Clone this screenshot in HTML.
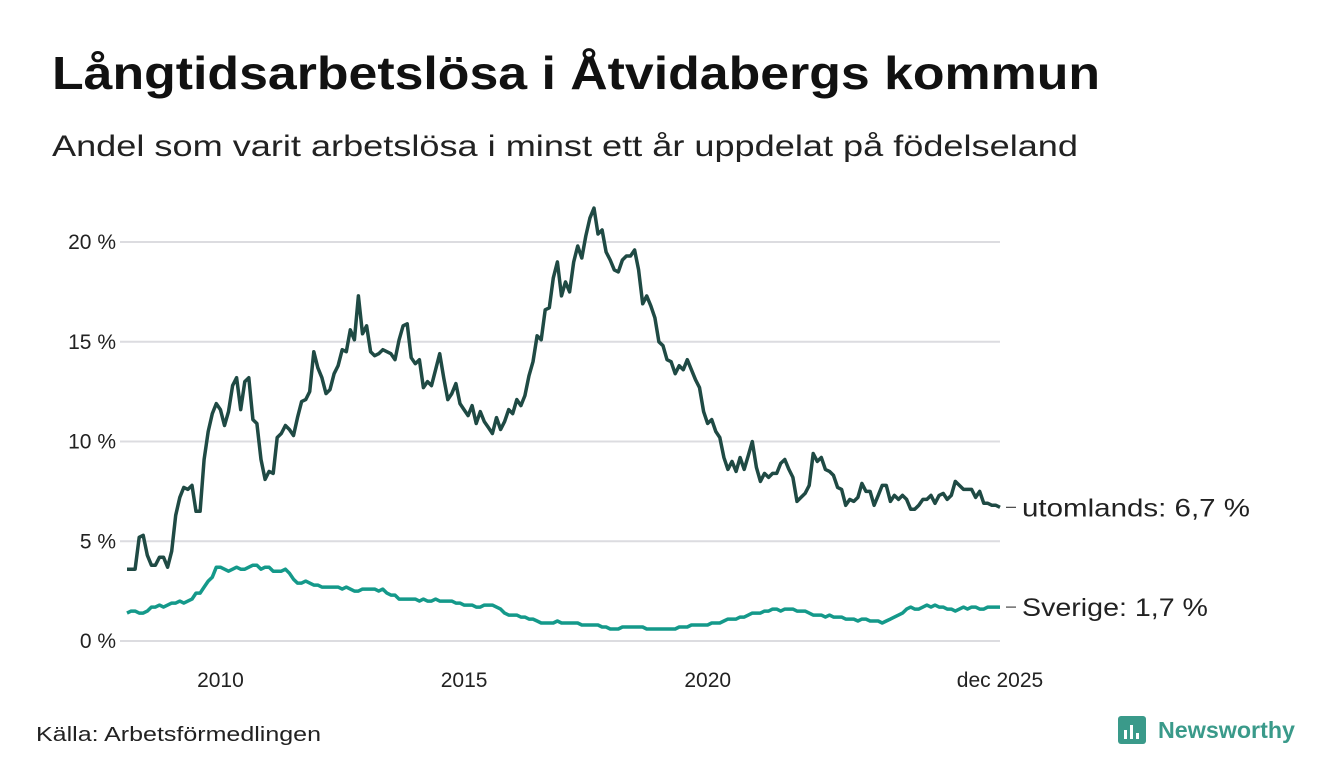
<!DOCTYPE html>
<html><head><meta charset="utf-8"><style>
body{margin:0;background:#fff;font-family:"Liberation Sans",sans-serif;}
#c{position:relative;width:1340px;height:780px;overflow:hidden;}
</style></head><body>
<div id="c">
<svg id="s" width="1340" height="780">
<text x="52" y="89" font-size="46" font-weight="bold" fill="#111" textLength="1048" lengthAdjust="spacingAndGlyphs">Långtidsarbetslösa i Åtvidabergs kommun</text>
<text x="52" y="156" font-size="30" fill="#222" textLength="1026" lengthAdjust="spacingAndGlyphs">Andel som varit arbetslösa i minst ett år uppdelat på födelseland</text>
<text x="36" y="741" font-size="20" fill="#222" textLength="285" lengthAdjust="spacingAndGlyphs">Källa: Arbetsförmedlingen</text>
<g>
<rect x="1118" y="716" width="28" height="28" rx="3" fill="#3a9a8a"/>
<rect x="1124" y="730" width="3" height="9" fill="#fff"/><rect x="1130" y="725" width="3" height="14" fill="#fff"/><rect x="1136" y="733" width="3" height="6" fill="#fff"/>
<text x="1158" y="738" font-size="23" font-weight="bold" fill="#3a9a8a" textLength="137" lengthAdjust="spacingAndGlyphs">Newsworthy</text>
</g>
<g id="grid"></g><g id="lines"></g>
</svg>
</div>
<script>
const yTicks=[0,5,10,15,20];
const yTickLabels=["0 %","5 %","10 %","15 %","20 %"];
const xTickYears=[2010,2015,2020];
const xTickLabels=["2010","2015","2020","dec 2025"];
const utomlands=[3.6,3.6,3.6,5.2,5.3,4.3,3.8,3.8,4.2,4.2,3.7,4.5,
6.3,7.2,7.7,7.6,7.8,6.5,6.5,9.1,10.5,11.4,11.9,11.6,
10.8,11.5,12.8,13.2,11.6,13.0,13.2,11.1,10.9,9.1,8.1,8.5,
8.4,10.2,10.4,10.8,10.6,10.3,11.2,12.0,12.1,12.5,14.5,13.7,
13.2,12.4,12.6,13.4,13.8,14.6,14.5,15.6,15.1,17.3,15.4,15.8,
14.5,14.3,14.4,14.6,14.5,14.4,14.1,15.1,15.8,15.9,14.2,13.9,
14.1,12.7,13.0,12.8,13.6,14.4,13.2,12.1,12.4,12.9,11.9,11.6,
11.3,11.8,10.9,11.5,11.0,10.7,10.4,11.2,10.6,11.0,11.6,11.4,
12.1,11.8,12.3,13.3,14.0,15.3,15.1,16.6,16.7,18.2,19.0,17.3,
18.0,17.5,19.0,19.8,19.2,20.3,21.2,21.7,20.4,20.6,19.5,19.1,
18.6,18.5,19.1,19.3,19.3,19.6,18.6,16.9,17.3,16.8,16.2,15.0,
14.8,14.1,14.0,13.4,13.8,13.6,14.1,13.6,13.1,12.7,11.5,10.9,
11.1,10.5,10.2,9.2,8.6,9.0,8.5,9.2,8.6,9.3,10.0,8.7,
8.0,8.4,8.2,8.4,8.4,8.9,9.1,8.6,8.2,7.0,7.2,7.4,
7.8,9.4,9.0,9.2,8.6,8.5,8.3,7.7,7.6,6.8,7.1,7.0,
7.2,7.9,7.5,7.5,6.8,7.3,7.8,7.8,7.0,7.3,7.1,7.3,
7.1,6.6,6.6,6.8,7.1,7.1,7.3,6.9,7.3,7.4,7.1,7.3,
8.0,7.8,7.6,7.6,7.6,7.2,7.5,6.9,6.9,6.8,6.8,6.7];
const sverige=[1.4,1.5,1.5,1.4,1.4,1.5,1.7,1.7,1.8,1.7,1.8,1.9,
1.9,2.0,1.9,2.0,2.1,2.4,2.4,2.7,3.0,3.2,3.7,3.7,
3.6,3.5,3.6,3.7,3.6,3.6,3.7,3.8,3.8,3.6,3.7,3.7,
3.5,3.5,3.5,3.6,3.4,3.1,2.9,2.9,3.0,2.9,2.8,2.8,
2.7,2.7,2.7,2.7,2.7,2.6,2.7,2.6,2.5,2.5,2.6,2.6,
2.6,2.6,2.5,2.6,2.4,2.3,2.3,2.1,2.1,2.1,2.1,2.1,
2.0,2.1,2.0,2.0,2.1,2.0,2.0,2.0,2.0,1.9,1.9,1.8,
1.8,1.8,1.7,1.7,1.8,1.8,1.8,1.7,1.6,1.4,1.3,1.3,
1.3,1.2,1.2,1.1,1.1,1.0,0.9,0.9,0.9,0.9,1.0,0.9,
0.9,0.9,0.9,0.9,0.8,0.8,0.8,0.8,0.8,0.7,0.7,0.6,
0.6,0.6,0.7,0.7,0.7,0.7,0.7,0.7,0.6,0.6,0.6,0.6,
0.6,0.6,0.6,0.6,0.7,0.7,0.7,0.8,0.8,0.8,0.8,0.8,
0.9,0.9,0.9,1.0,1.1,1.1,1.1,1.2,1.2,1.3,1.4,1.4,
1.4,1.5,1.5,1.6,1.6,1.5,1.6,1.6,1.6,1.5,1.5,1.5,
1.4,1.3,1.3,1.3,1.2,1.3,1.2,1.2,1.2,1.1,1.1,1.1,
1.0,1.1,1.1,1.0,1.0,1.0,0.9,1.0,1.1,1.2,1.3,1.4,
1.6,1.7,1.6,1.6,1.7,1.8,1.7,1.8,1.7,1.7,1.6,1.6,
1.5,1.6,1.7,1.6,1.7,1.7,1.6,1.6,1.7,1.7,1.7,1.7];
const seriesNames=["utomlands","Sverige"];
const NS="http://www.w3.org/2000/svg";
const X0=127,X1=1000,Y0=641,PX5=99.75;
const n=utomlands.length;
const xs=i=>X0+(X1-X0)*i/(n-1);
const ys=v=>Y0-v*PX5/5;
const yearX=y=>xs((y-2008)*12);
const grid=document.getElementById('grid'),lines=document.getElementById('lines');
function mk(t,a,p){const e=document.createElementNS(NS,t);for(const k in a)e.setAttribute(k,a[k]);p.appendChild(e);return e;}
yTicks.forEach((v,i)=>{
 const l=mk('line',{x1:120,x2:1000,y1:ys(v),y2:ys(v),stroke:'#dcdce0','stroke-width':2},grid);
 
 
 const t=mk('text',{x:116,y:ys(v)+7,'text-anchor':'end','font-size':21,fill:'#222'},grid);
 t.textContent=yTickLabels[i];
 
 
});
xTickLabels.forEach((lab,i)=>{
 const x=i<xTickYears.length?yearX(xTickYears[i])-4:X1;
 const t=mk('text',{x:x,y:687,'text-anchor':'middle','font-size':21,fill:'#222'},grid);
 t.textContent=lab;
 
 
});
const cols=['#1f4a44','#14998a'];
[utomlands,sverige].forEach((d,si)=>{
 const p=mk('path',{d:d.map((v,i)=>(i?'L':'M')+xs(i).toFixed(1)+','+ys(v).toFixed(1)).join(''),fill:'none',stroke:cols[si],'stroke-width':3.5,'stroke-linejoin':'round'},lines);
 
 
 const last=d[d.length-1],ly=ys(last);
 const tk=mk('line',{x1:1006,x2:1016,y1:ly,y2:ly,stroke:'#444','stroke-width':1.2},lines);
 
 
 const t=mk('text',{x:1022,y:ly+9,'font-size':25,fill:'#222',textLength:si?186:228,lengthAdjust:'spacingAndGlyphs'},lines);
 t.textContent=seriesNames[si]+': '+last.toFixed(1).replace('.',',')+' %';
 
 
});
</script>
</body></html>
